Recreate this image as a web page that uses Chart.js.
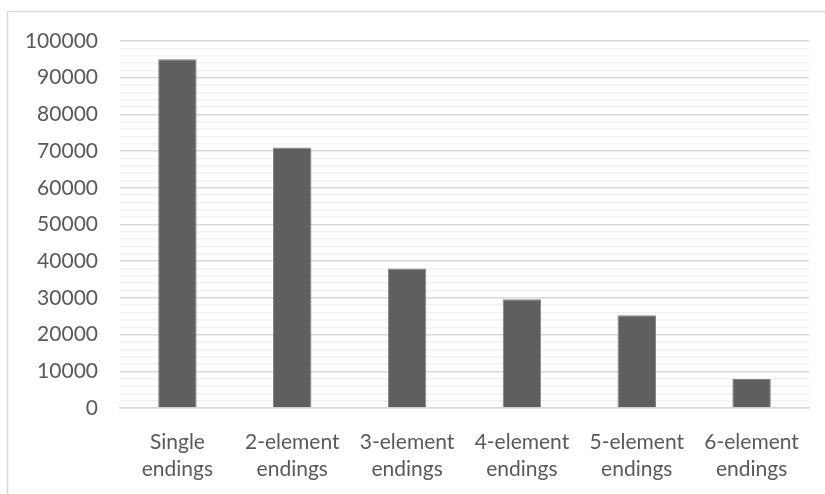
<!DOCTYPE html>
<html>
<head>
<meta charset="utf-8">
<script src="https://cdn.jsdelivr.net/npm/chart.js@4"></script>
<style>
  html, body { margin: 0; padding: 0; background: #ffffff; }
  #wrap { width: 825px; height: 494px; position: relative; }
</style>
</head>
<body>
<div id="wrap"><canvas id="chart" width="825" height="494"></canvas></div>
<script>
// Ending types and how many occurrences each has
const categories = [
  ['Single', 'endings'],
  ['2-element', 'endings'],
  ['3-element', 'endings'],
  ['4-element', 'endings'],
  ['5-element', 'endings'],
  ['6-element', 'endings']
];
const counts = [95000, 71000, 38000, 29600, 25300, 7900];

// Value axis: labelled every 10000, light minor lines every 2000
const yMin = 0;
const yMax = 100000;
const majorStep = 10000;
const minorStep = 2000;

const TEXT = '#595959';
const FONT = 'Lato, "Open Sans", sans-serif';

// Thin frame around the whole chart area
const framePlugin = {
  id: 'frame',
  beforeDraw(chart) {
    const ctx = chart.ctx;
    ctx.save();
    ctx.fillStyle = '#ffffff';
    ctx.fillRect(0, 0, chart.width, chart.height);
    ctx.strokeStyle = '#d9d9d9';
    ctx.lineWidth = 1.5;
    ctx.strokeRect(7.5, 11.5, chart.width + 20, chart.height + 20);
    ctx.restore();
  }
};

new Chart(document.getElementById('chart'), {
  type: 'bar',
  data: {
    labels: categories,
    datasets: [{
      data: counts,
      backgroundColor: '#5f5f5f',
      borderColor: '#858585',
      borderWidth: 1,
      categoryPercentage: 1,
      barPercentage: 0.335
    }]
  },
  options: {
    responsive: false,
    animation: false,
    layout: { padding: { top: 41, right: 16, bottom: 0, left: 0 } },
    plugins: {
      legend: { display: false },
      tooltip: { enabled: false }
    },
    scales: {
      x: {
        grid: { display: false },
        border: { display: true, color: '#d9d9d9', width: 1.5 },
        ticks: {
          color: TEXT,
          font: { family: FONT, size: 21, lineHeight: 1.28 },
          padding: 13,
          maxRotation: 0,
          autoSkip: false
        },
        afterFit(scale) { scale.height = 86; }
      },
      y: {
        min: yMin,
        max: yMax,
        border: { display: false },
        grid: {
          drawTicks: false,
          color: ctx => (ctx.tick && ctx.tick.value % majorStep === 0) ? '#d9d9d9' : '#f2f2f2',
          lineWidth: 1.5
        },
        ticks: {
          stepSize: minorStep,
          autoSkip: false,
          color: TEXT,
          padding: 22,
          font: { family: FONT, size: 21 },
          callback: v => (v % majorStep === 0) ? String(v) : ''
        },
        afterFit(scale) { scale.width = 120; }
      }
    }
  },
  plugins: [framePlugin]
});
</script>
</body>
</html>
